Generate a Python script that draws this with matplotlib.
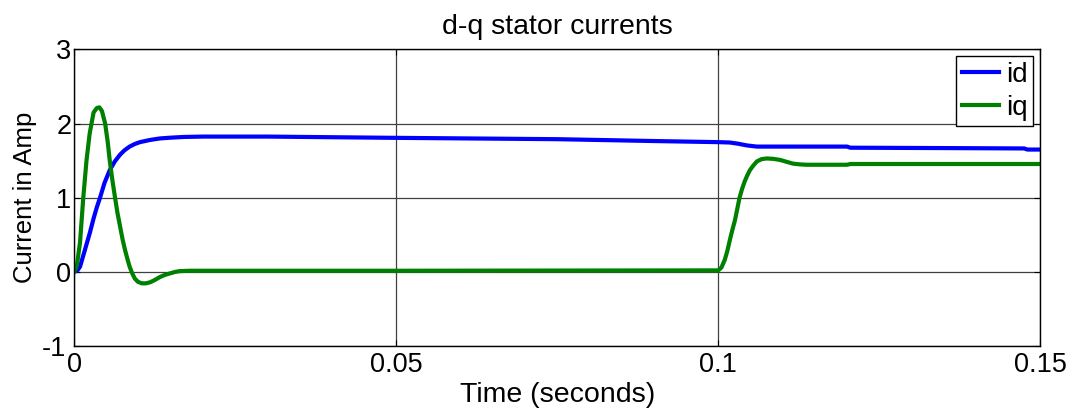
import matplotlib
matplotlib.use("Agg")
import matplotlib.pyplot as plt
from matplotlib.transforms import ScaledTranslation

plt.rcParams['font.family'] = ['Liberation Sans', 'DejaVu Sans']

# Simulation time samples (s) and d-axis current (A)
t_id = [0.0, 0.0005, 0.0009, 0.0015, 0.002, 0.0024, 0.003, 0.0035, 0.004,
        0.0047, 0.0055, 0.0063, 0.0071, 0.0078, 0.0086, 0.0094, 0.0102,
        0.011, 0.0118, 0.0133, 0.0149, 0.017, 0.02, 0.03, 0.05, 0.075,
        0.09, 0.1, 0.1018, 0.103, 0.1045, 0.106, 0.12, 0.1205, 0.135,
        0.1475, 0.148, 0.15]
id_vals = [0.0, 0.02, 0.07, 0.25, 0.4, 0.52, 0.72, 0.87, 1.0,
           1.2, 1.37, 1.49, 1.58, 1.64, 1.69, 1.725, 1.75,
           1.765, 1.78, 1.80, 1.81, 1.82, 1.825, 1.825, 1.808, 1.79,
           1.765, 1.75, 1.745, 1.73, 1.705, 1.69, 1.69, 1.675, 1.67,
           1.665, 1.65, 1.65]

# Simulation time samples (s) and q-axis current (A)
t_iq = [0.0, 0.0004, 0.0009, 0.0014, 0.0019, 0.0024, 0.003, 0.0035, 0.0039,
        0.0043, 0.0048, 0.0052, 0.0055, 0.0059, 0.0063, 0.0067, 0.0071,
        0.0075, 0.0079, 0.0083, 0.0086, 0.009, 0.0094, 0.0099, 0.0105,
        0.0111, 0.0118, 0.0125, 0.0133, 0.0141, 0.0149, 0.0157, 0.0164,
        0.018, 0.05, 0.1, 0.1005, 0.101, 0.1014, 0.1018, 0.1022, 0.1026,
        0.103, 0.1033, 0.1037, 0.1041, 0.1045, 0.1049, 0.1054, 0.106,
        0.1067, 0.1075, 0.1085, 0.1096, 0.1106, 0.1116, 0.1127, 0.1137,
        0.12, 0.1205, 0.15]
iq_vals = [0.0, 0.08, 0.4, 1.0, 1.5, 1.87, 2.15, 2.21, 2.22,
           2.17, 2.0, 1.75, 1.51, 1.25, 1.02, 0.8, 0.62,
           0.44, 0.29, 0.16, 0.07, -0.02, -0.09, -0.135, -0.155,
           -0.155, -0.14, -0.11, -0.07, -0.04, -0.02, 0.0, 0.01,
           0.015, 0.015, 0.02, 0.06, 0.16, 0.28, 0.43, 0.57, 0.7,
           0.87, 1.0, 1.12, 1.22, 1.3, 1.37, 1.43, 1.49,
           1.52, 1.53, 1.525, 1.51, 1.485, 1.46, 1.45, 1.445,
           1.445, 1.455, 1.455]

x_ticks = [0, 0.05, 0.1, 0.15]
x_tick_labels = ['0', '0.05', '0.1', '0.15']
y_ticks = [-1, 0, 1, 2, 3]
y_tick_labels = ['-1', '0', '1', '2', '3']

fig = plt.figure(figsize=(10.73, 4.08), dpi=100)
ax = fig.add_axes([0.0692, 0.152, 0.9003, 0.7267])

ax.plot(t_id, id_vals, color='#0000ff', lw=3, label='id', solid_joinstyle='round')
ax.plot(t_iq, iq_vals, color='#008000', lw=3, label='iq', solid_joinstyle='round')

ax.set_xlim(0, 0.15)
ax.set_ylim(-1, 3)
ax.set_xticks(x_ticks)
ax.set_xticklabels(x_tick_labels)
ax.set_yticks(y_ticks)
ax.set_yticklabels(y_tick_labels)
ax.tick_params(direction='in', top=True, right=True, labelsize=19.5,
               length=4, width=0.8)
ax.tick_params(axis='x', pad=4.5)
ax.tick_params(axis='y', pad=2)

# nudge the bottom y label left so it clears the x-axis "0"
bottom_label = ax.get_yticklabels()[0]
bottom_label.set_transform(bottom_label.get_transform() +
                           ScaledTranslation(-0.05, 0, fig.dpi_scale_trans))

ax.grid(True, color='#404040', lw=0.9)
for s in ax.spines.values():
    s.set_linewidth(1.0)

ax.set_title('d-q stator currents', fontsize=20.5, pad=11)
ax.set_xlabel('Time (seconds)', fontsize=20.5, labelpad=3)
ax.set_ylabel('Current in Amp', fontsize=18.5, labelpad=3.5)

leg = ax.legend(loc='upper right', fontsize=20, handlelength=1.35,
                handletextpad=0.25, borderpad=0.2, labelspacing=0.25,
                borderaxespad=0.25, fancybox=False, framealpha=1)
leg.get_frame().set_edgecolor('black')
leg.get_frame().set_linewidth(1.0)

fig.savefig('out.png', dpi=100)
